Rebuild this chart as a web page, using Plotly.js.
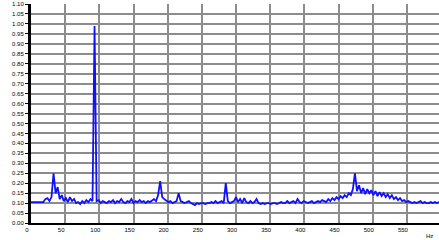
<!DOCTYPE html>
<html>
<head>
<meta charset="utf-8">
<script src="https://cdn.plot.ly/plotly-3.0.1.min.js"></script>
<style>html,body{margin:0;padding:0;background:#fff;}#chart{width:439px;height:240px;}</style>
</head>
<body>
<div id="chart"></div>
<script>
// x start and step (Hz)
var xStart = 0;
var xStep = 3;
// amplitude values, one per step
var amplitude = [
0.105,0.105,0.106,0.104,0.105,0.106,0.105,0.12,0.125,0.11,
0.13,0.25,0.15,0.18,0.12,0.14,0.11,0.125,0.105,0.13,
0.11,0.12,0.10,0.105,0.095,0.11,0.10,0.115,0.105,0.12,
0.11,0.99,0.11,0.115,0.10,0.11,0.105,0.10,0.11,0.105,
0.115,0.10,0.11,0.105,0.12,0.105,0.10,0.11,0.105,0.12,
0.10,0.11,0.105,0.115,0.105,0.11,0.10,0.11,0.105,0.115,
0.12,0.11,0.14,0.21,0.13,0.12,0.11,0.105,0.11,0.10,
0.105,0.11,0.15,0.11,0.105,0.10,0.105,0.11,0.10,0.095,
0.09,0.10,0.095,0.10,0.10,0.095,0.10,0.10,0.105,0.10,
0.11,0.10,0.105,0.11,0.10,0.20,0.11,0.10,0.105,0.11,
0.13,0.105,0.12,0.10,0.125,0.105,0.10,0.11,0.10,0.105,
0.12,0.10,0.095,0.10,0.095,0.10,0.10,0.095,0.10,0.10,
0.095,0.10,0.105,0.10,0.10,0.11,0.10,0.105,0.11,0.10,
0.12,0.105,0.10,0.11,0.105,0.10,0.105,0.11,0.10,0.105,
0.11,0.105,0.115,0.11,0.105,0.12,0.11,0.125,0.115,0.13,
0.12,0.135,0.125,0.14,0.13,0.15,0.14,0.17,0.25,0.16,
0.19,0.15,0.175,0.145,0.17,0.15,0.165,0.14,0.16,0.135,
0.155,0.135,0.15,0.13,0.145,0.125,0.14,0.12,0.13,0.115,
0.125,0.11,0.115,0.105,0.11,0.105,0.10,0.105,0.10,0.105,
0.11,0.10,0.105,0.10,0.10,0.105,0.10,0.105,0.10,0.105
];
var xTickVals = [0,50,100,150,200,250,300,350,400,450,500,550];
var xTickText = ["0","50","100","150","200","250","300","350","400","450","500","550"];
var xTitle = "Hz";

var trace = {
  type: "scatter", mode: "lines",
  x0: xStart, dx: xStep, y: amplitude,
  line: {color: "#1010ff", width: 1.8},
  hoverinfo: "skip"
};
var layout = {
  width: 439, height: 240,
  margin: {l: 31, r: 0, t: 4, b: 17},
  paper_bgcolor: "#fff", plot_bgcolor: "#fff",
  showlegend: false,
  font: {family: "Liberation Sans, Arial, sans-serif", size: 6, color: "#000"},
  xaxis: {
    range: [0, 597], tickvals: xTickVals, ticktext: xTickText,
    showgrid: true, gridcolor: "#8c8c8c", gridwidth: 2,
    showline: true, linecolor: "#000", linewidth: 2,
    zeroline: false, ticks: "", ticklabelshift: -4,
    tickfont: {size: 6, color: "#000"}
  },
  yaxis: {
    range: [0, 1.1], dtick: 0.05, tick0: 0, tickformat: ".2f",
    showgrid: true, gridcolor: "#8c8c8c", gridwidth: 2,
    showline: true, linecolor: "#000", linewidth: 3,
    zeroline: false, ticks: "outside", ticklen: 3, tickcolor: "#000",
    tickfont: {size: 6, color: "#000"}
  },
  annotations: [{
    text: xTitle, xref: "paper", yref: "paper", x: 0.99, y: 0,
    xanchor: "right", yanchor: "top", yshift: -8, showarrow: false,
    font: {size: 6, color: "#000"}
  }]
};
Plotly.newPlot("chart", [trace], layout, {displayModeBar: false, staticPlot: true});
</script>
</body>
</html>
